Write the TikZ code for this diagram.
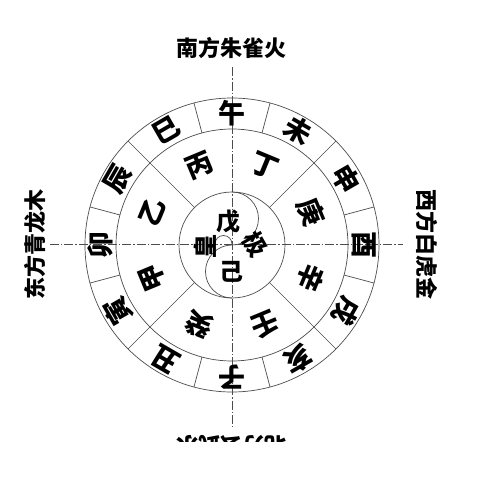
\documentclass[tikz,border=0pt]{standalone}
\usepackage{fontspec}
\newfontfamily\cjk{Noto Sans CJK SC}
\begin{document}
\begin{tikzpicture}[x=1pt,y=1pt,
  ring/.style={draw=black!70, line width=0.7pt},
  axisline/.style={draw=black!70, line width=0.6pt, dash pattern=on 9pt off 2pt on 1.5pt off 2pt},
  br/.style={font=\cjk\bfseries\fontsize{27}{27}\selectfont, inner sep=0pt},
  st/.style={font=\cjk\bfseries\fontsize{27}{27}\selectfont, inner sep=0pt},
  ctr/.style={font=\cjk\bfseries\fontsize{24}{24}\selectfont, inner sep=0pt},
  dir/.style={font=\cjk\bfseries\fontsize{22}{22}\selectfont, inner sep=0pt}]
\useasboundingbox (-232,-235) rectangle (248,245);
\fill[white] (-232,-235) rectangle (248,245);
% axes
\coordinate (N) at (0,178);
\coordinate (S) at (0,-182);
\coordinate (W) at (-182,1);
\coordinate (E) at (171,1);
\draw[axisline] (N) -- (S);
\draw[axisline] (W) -- (E);
% circles
\draw[ring] (0,0) circle[radius=147];
\draw[ring] (0,0) circle[radius=116];
\draw[ring] (0,0) circle[radius=53];
\foreach \a in {15,45,...,345} \draw[ring] (\a:116) -- (\a:147);
\foreach \a in {45,135,225,315} \draw[ring] (\a:53) -- (\a:116);
% taiji curve
\draw[ring] (0,53) arc[start angle=90, end angle=-90, radius=26.5]
                   arc[start angle=90, end angle=270, radius=26.5];
\draw[ring] (-17,1) arc[start angle=180, end angle=0, radius=8.5];
% branches
\foreach \c/\a [count=\i] in {午/90,未/60,申/30,酉/0,戌/-30,亥/-60,子/-90,丑/-120,寅/-150,卯/180,辰/150,巳/120}
  \node[br, rotate=\a-90] (b\i) at (\a:132) {\c};
% stems
\foreach \c/\a [count=\i] in {丁/67.5,庚/22.5,辛/-22.5,壬/-67.5,癸/-112.5,甲/-157.5,乙/157.5,丙/112.5}
  \node[st, rotate=\a-90] (s\i) at (\a:86) {\c};
% centre
\node[ctr] (wu) at (-3,23) {戊};
\node[ctr] (ji) at (0,-27) {己};
\node[ctr, rotate=90] (huang) at (-27,-1) {皇};
\node[ctr, rotate=-60] (jiz) at (23,1) {极};
% direction labels
\node[dir] (south) at (0,197) {南方朱雀火};
\node[dir, rotate=90] (east) at (-197,1) {东方青龙木};
\node[dir, rotate=-90] (west) at (195,1) {西方白虎金};
\begin{scope}
\clip (-232,-196) rectangle (248,245);
\node[dir, rotate=180] (north) at (0,-201) {北方玄武水};
\end{scope}
\end{tikzpicture}
\end{document}
